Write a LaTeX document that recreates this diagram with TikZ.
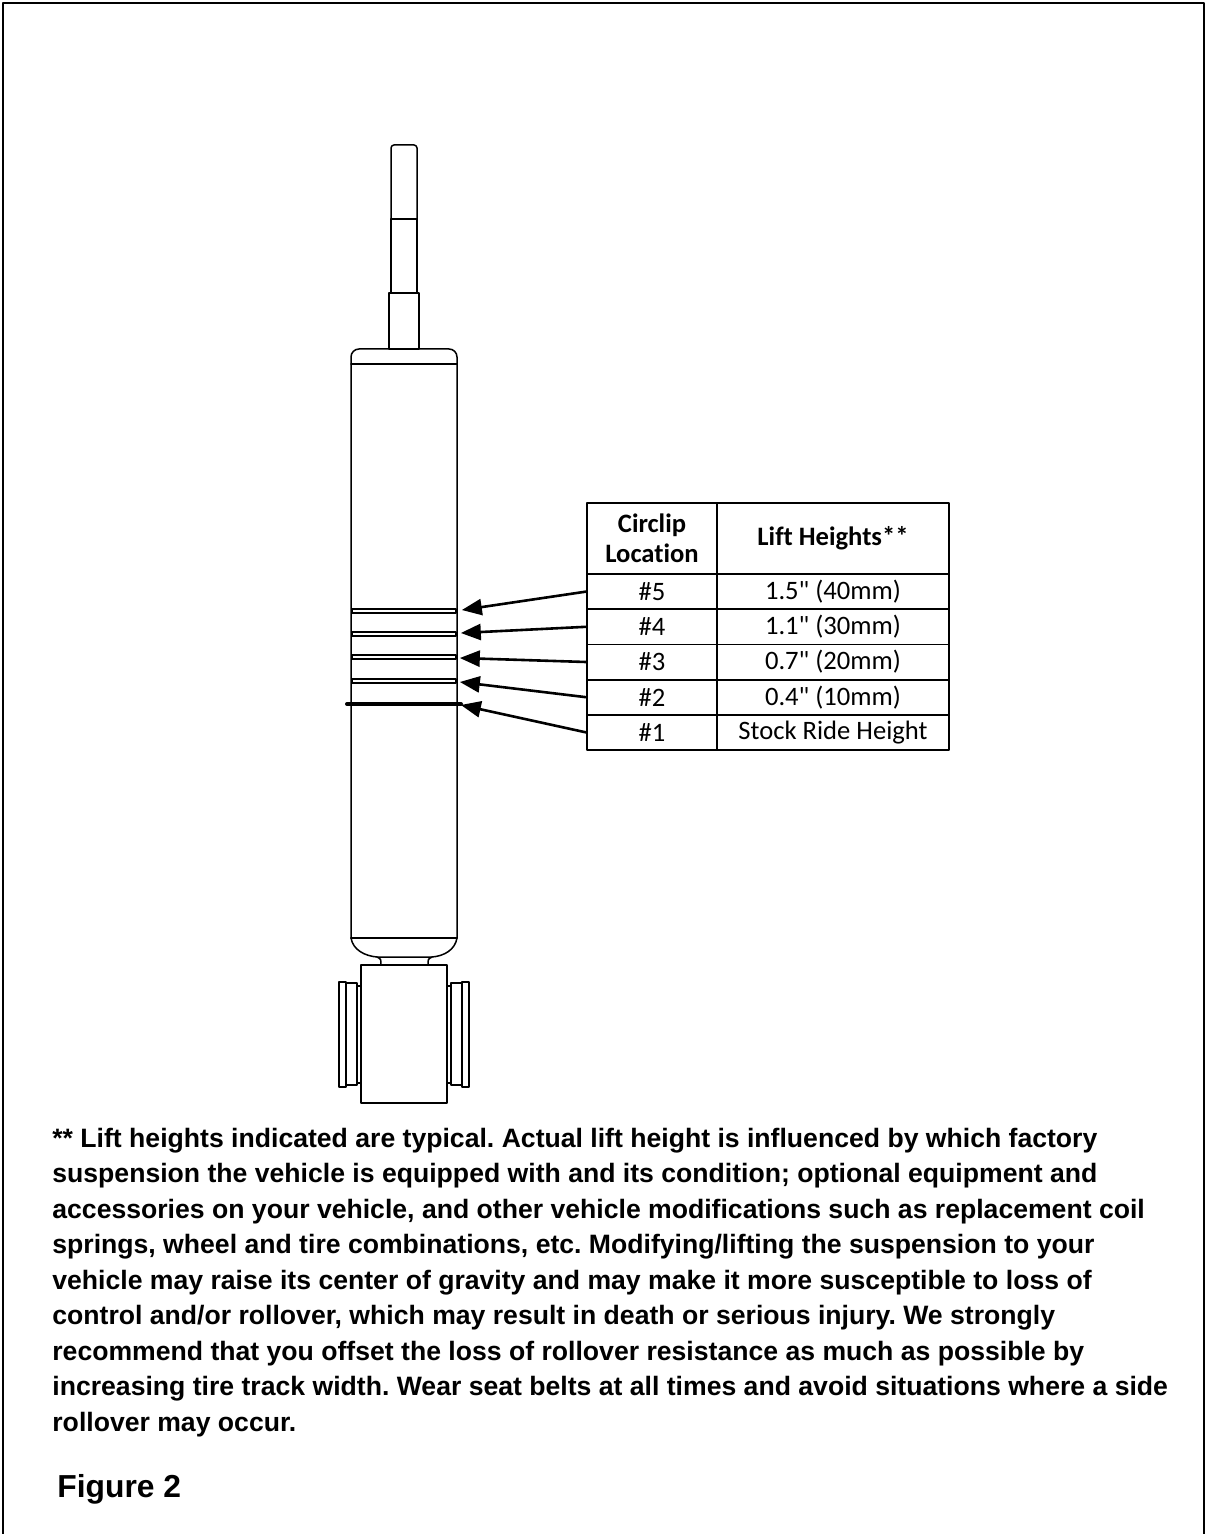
\documentclass[tikz,border=0pt]{standalone}
\usepackage{fontspec}
\setmainfont{Liberation Sans}
\newfontfamily\tabfont[Ligatures=NoCommon]{Carlito}
\usetikzlibrary{arrows}

\tikzset{
  cell/.style={draw, line width=0.9pt, inner sep=0pt, minimum height=17.6pt,
    font=\tabfont\fontsize{13.3}{15}\selectfont},
  headcell/.style={cell, minimum height=35.5pt, align=center,
    font=\tabfont\bfseries\fontsize{13.3}{15}\selectfont},
  part/.style={line width=0.75pt}
}

\begin{document}
\begin{tikzpicture}[line cap=round,line join=round,>=triangle 45,x=0.5pt,y=-0.5pt]
\useasboundingbox (0,0) rectangle (1207,1534);
% frame
\draw [line width=1.2pt] (3,1534)-- (3,3)-- (1204,3)-- (1204,1534);
% piston rod
\draw [part, rounded corners=1.5pt] (391,219)-- (391,145)-- (417,145)-- (417,219);
\draw [part] (391,219) rectangle (417,293);
\draw [part] (389,293) rectangle (419,349);
% body
\draw [part, rounded corners=4pt] (351,938)-- (351,349)-- (457,349)-- (457,938);
\draw [part] (351,364)-- (457,364);
\draw [part] (351,938)-- (457,938);
\draw [part] (351,938) .. controls (353,950) and (365,956) .. (377,957)-- (432,957) .. controls (444,956) and (455,950) .. (457,938);
\draw [part] (377,957) .. controls (381,959) .. (381,965);
\draw [part] (432,957) .. controls (428,959) .. (428,965);
% eye and bushings
\draw [part] (361,965) rectangle (447,1103);
\draw [part] (339,982) rectangle (346,1087);
\draw [part] (346,983) rectangle (357,1085);
\draw [part] (357,986) rectangle (361,1083);
\draw [part] (462,982) rectangle (469,1087);
\draw [part] (451,983) rectangle (462,1085);
\draw [part] (447,986) rectangle (451,1083);
% circlip grooves
\foreach \y in {609,632,655,679}
  \draw [part, fill=white] (352,\y) rectangle (456,\y+4);
\draw [line width=2pt] (347,704)-- (461,704);
\coordinate (c5) at (462,610);
\coordinate (c4) at (461,633);
\coordinate (c3) at (460,658);
\coordinate (c2) at (460,682);
\coordinate (c1) at (461,705);
% table
\node [headcell, minimum width=65pt] (hloc) at (652,538.5) {Circlip\\Location};
\node [headcell, minimum width=116pt] (hlift) at (833,538.5) {Lift Heights**};
\foreach \n/\h [count=\i] in {5/{1.5" (40mm)},4/{1.1" (30mm)},3/{0.7" (20mm)},2/{0.4" (10mm)},1/{Stock Ride Height}}{
  \node [cell, minimum width=65pt] (loc\n) at (652,556.4+35.2*\i) {\#\n};
  \node [cell, minimum width=116pt] (lift\n) at (833,556.4+35.2*\i) {\h};
  \draw [line width=1.3pt,->] (loc\n.west)-- (c\n);
}
% note
\node [anchor=base west, align=left, inner sep=0pt, font=\frenchspacing\bfseries\fontsize{13.3}{17.75}\selectfont] (note) at (52,1431)
  {** Lift heights indicated are typical. Actual lift height is influenced by which factory\\
   suspension the vehicle is equipped with and its condition; optional equipment and\\
   accessories on your vehicle, and other vehicle modifications such as replacement coil\\
   springs, wheel and tire combinations, etc. Modifying/lifting the suspension to your\\
   vehicle may raise its center of gravity and may make it more susceptible to loss of\\
   control and/or rollover, which may result in death or serious injury. We strongly\\
   recommend that you offset the loss of rollover resistance as much as possible by\\
   increasing tire track width. Wear seat belts at all times and avoid situations where a side\\
   rollover may occur.};
\node [anchor=base west, inner sep=0pt, font=\bfseries\fontsize{15.9}{18}\selectfont] (fig) at (57,1497) {Figure 2};
\end{tikzpicture}
\end{document}
